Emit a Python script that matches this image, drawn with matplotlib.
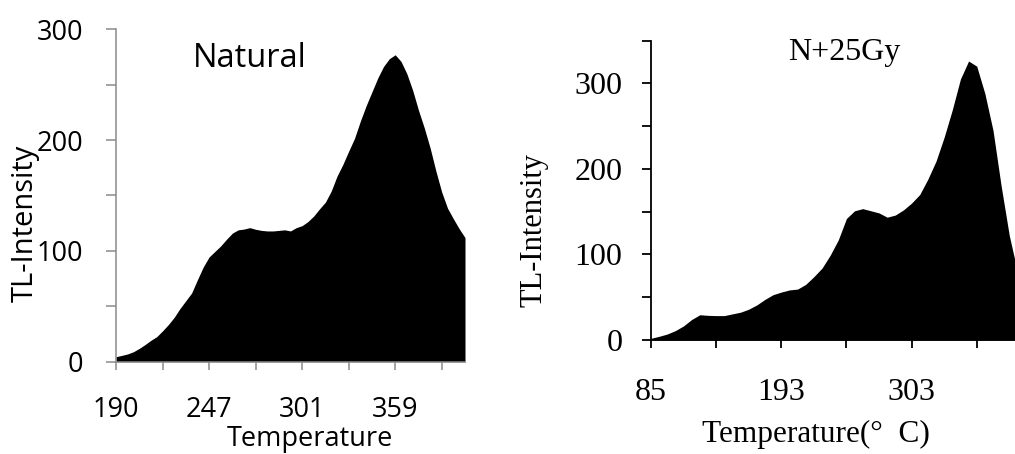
import numpy as np
import matplotlib
matplotlib.use('Agg')
import matplotlib.pyplot as plt

# TL glow curves, sampled every 1/8 of an x tick interval (category axis)
natural = [4.5, 5.7, 7, 9, 12, 15.5, 19.3, 22.6, 27.8, 33.5,
           40, 48, 55, 62, 74, 85.5, 94.5, 99.5, 104.5, 110.5,
           116, 119, 119.7, 121, 119.5, 118.5, 118, 118, 118.5, 119,
           118, 121, 122.8, 126.5, 131.5, 138, 144, 154, 167.5, 178,
           190, 201.5, 217, 231, 243.5, 256, 266.5, 273.5, 277, 271,
           260, 245, 227, 211, 193, 172, 153, 138.5, 129, 120, 112]

n25gy = [2, 4.3, 7, 11, 16.5, 24, 29.5, 28.8, 28.5, 28.5,
         30.5, 32.5, 36, 41, 47.5, 53, 56, 58.5, 59.5, 65,
         74, 84, 99, 117, 142, 151, 153.5, 151, 148.5, 143.5,
         146, 152, 160, 170, 188, 209, 237, 269, 305, 326,
         320, 288, 245, 180, 122, 80, 45]

nat_xlabels = ['190', '', '247', '', '301', '', '359', '']
n25_xlabels = ['85', '', '193', '', '303', '']
nat_ylabels = ['0', '', '100', '', '200', '', '300']
n25_ylabels = ['0', '', '100', '', '200', '', '300', '']

W, H = 1015, 454
fig = plt.figure(figsize=(W / 100, H / 100), dpi=100)


def box(x0, y0, x1, y1):
    # pixel box (top-left origin) -> figure fraction rect
    return [x0 / W, 1 - y1 / H, (x1 - x0) / W, (y1 - y0) / H]


def ftext(x, y, s, **kw):
    fig.text(x / W, 1 - y / H, s, **kw)


sans = 'Open Sans'
serif = 'Liberation Serif'

# ---- left: Natural ----
ax1 = fig.add_axes(box(116, 29.3, 465, 361.7))
x1 = np.arange(len(natural))
ax1.fill_between(x1, natural, 0, color='black', linewidth=0)
ax1.set_xlim(0, len(natural) - 1)
ax1.set_ylim(0, 300)
ax1.set_xticks(np.arange(0, len(natural) - 1, 8))
ax1.set_xticklabels(nat_xlabels, fontfamily=sans, fontsize=19.5)
ax1.set_yticks(np.arange(0, 301, 50))
ax1.set_yticklabels(nat_ylabels, fontfamily=sans, fontsize=19.5)
for s in ['top', 'right']:
    ax1.spines[s].set_visible(False)
for s in ['left', 'bottom']:
    ax1.spines[s].set_color('#8a8a8a')
    ax1.spines[s].set_linewidth(1.1)
ax1.tick_params(axis='y', length=7.2, width=1.1, color='#8a8a8a', pad=16.5)
ax1.tick_params(axis='x', length=6, width=1.1, color='#8a8a8a', pad=19)

ftext(250, 67, 'Natural', fontfamily=sans, fontsize=23.5, ha='center', va='baseline')
ftext(25, 223, 'TL-Intensity', fontfamily=sans, fontsize=21, rotation=90,
      ha='center', va='center')
ftext(310, 446, 'Temperature', fontfamily=sans, fontsize=19.5, ha='center', va='baseline')

# ---- right: N+25Gy ----
ax2 = fig.add_axes(box(651, 40.5, 1015, 340))
x2 = np.arange(len(n25gy))
ax2.fill_between(x2, n25gy, 0, color='black', linewidth=0)
ax2.set_xlim(0, 44.7)
ax2.set_ylim(0, 350)
ax2.set_xticks(np.arange(0, 41, 8))
ax2.set_xticklabels(n25_xlabels, fontfamily=serif, fontsize=23)
ax2.set_yticks(np.arange(0, 351, 50))
ax2.set_yticklabels(n25_ylabels, fontfamily=serif, fontsize=23)
for s in ['top', 'right']:
    ax2.spines[s].set_visible(False)
for s in ['left', 'bottom']:
    ax2.spines[s].set_color('black')
    ax2.spines[s].set_linewidth(1.3)
ax2.tick_params(axis='y', length=6.7, width=1.3, color='black', pad=14)
ax2.tick_params(axis='x', length=6, width=1.3, color='black', pad=21)

ftext(844.7, 60, 'N+25Gy', fontfamily=serif, fontsize=23, ha='center', va='baseline')
ftext(534, 230, 'TL-Intensity', fontfamily=serif, fontsize=22, rotation=90,
      ha='center', va='center')
ftext(815.8, 442, 'Temperature(°  C)', fontfamily=serif, fontsize=22.5,
      ha='center', va='baseline')

fig.savefig('out.png', dpi=100)
